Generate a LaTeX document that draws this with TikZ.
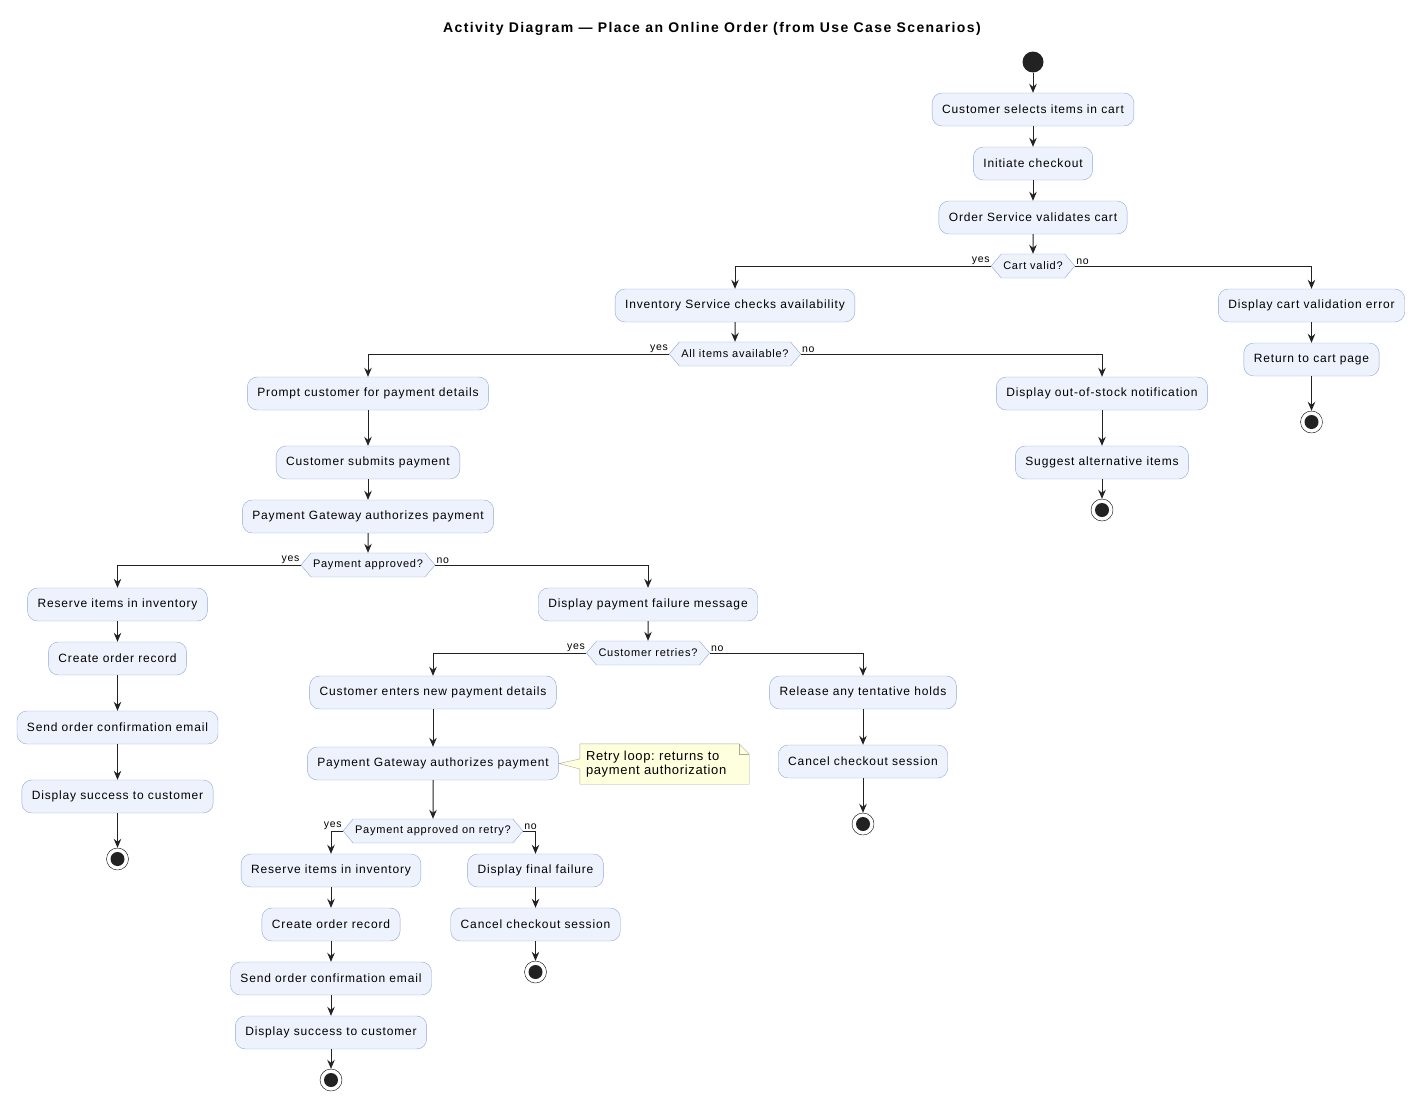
\documentclass[tikz,border=0pt]{standalone}
\usepackage{fontspec}
\setmainfont{Liberation Sans}[LetterSpace=7]
\usetikzlibrary{shapes.symbols,arrows.meta,backgrounds}
\frenchspacing

\definecolor{actFill}{HTML}{EEF2FC}
\definecolor{actLine}{HTML}{8FA8D8}
\definecolor{noteFill}{HTML}{FEFFDD}
\definecolor{noteLine}{HTML}{A9A99A}
\definecolor{flowLine}{HTML}{222222}

% column positions
\newcommand{\mainX}{1033}
\newcommand{\invX}{735}
\newcommand{\errX}{1311.5}
\newcommand{\payX}{368}
\newcommand{\stockX}{1102}
\newcommand{\okX}{117.5}
\newcommand{\failX}{648}
\newcommand{\retryX}{433}
\newcommand{\holdX}{863}
\newcommand{\reOkX}{331}
\newcommand{\reFailX}{535.5}

\tikzset{
  action/.style={draw=actLine, fill=actFill, rounded corners=10pt, minimum height=33pt,
    inner xsep=10pt, font=\fontsize{12}{14}\selectfont},
  decision/.style={draw=actLine, fill=actFill, shape=signal, signal to=east and west,
    signal pointer angle=100, minimum height=24pt, inner xsep=2pt, inner ysep=0pt,
    font=\fontsize{11}{13}\selectfont},
  startnode/.style={circle, fill=flowLine, minimum size=21pt, inner sep=0pt},
  endnode/.style={circle, draw=black, fill=white, minimum size=22pt, inner sep=0pt,
    path picture={\fill[flowLine] (path picture bounding box.center) circle (7pt);}},
  flow/.style={draw=flowLine, line width=1pt, -{Stealth[length=9pt,width=7.5pt,inset=3pt]}},
  guard/.style={font=\fontsize{10.5}{12}\selectfont, inner sep=1pt},
  memo/.style={align=left, minimum width=169pt, minimum height=40pt, inner xsep=6pt,
    text width=157pt, font=\fontsize{13}{14.5}\selectfont\addfontfeatures{LetterSpace=5}}
}

\begin{document}
\begin{tikzpicture}[x=1pt, y=-1pt]
  \useasboundingbox (0,0) rectangle (1425,1111);

  % Title
  \node[font=\bfseries\fontsize{14}{16}\selectfont\addfontfeatures{LetterSpace=10}] (title) at (712,29)
    {Activity Diagram — Place an Online Order (from Use Case Scenarios)};

  % Checkout start
  \node[startnode] (start) at (\mainX,62) {};
  \node[action] (select) at (\mainX,109.5) {Customer selects items in cart};
  \node[action] (init) at (\mainX,163.5) {Initiate checkout};
  \node[action] (validate) at (\mainX,217.5) {Order Service validates cart};
  \node[decision] (cartOk) at (\mainX,266) {Cart valid?};

  % Cart checks
  \node[action] (checkStock) at (\invX,305.5) {Inventory Service checks availability};
  \node[action] (cartErr) at (\errX,305.5) {Display cart validation error};
  \node[action] (backCart) at (\errX,359.5) {Return to cart page};
  \node[endnode] (endCart) at (\errX,422) {};
  \node[decision] (allAvail) at (\invX,354) {All items available?};

  % Stock
  \node[action] (askPay) at (\payX,393.5) {Prompt customer for payment details};
  \node[action] (noStock) at (\stockX,393.5) {Display out-of-stock notification};
  \node[action] (suggest) at (\stockX,462.5) {Suggest alternative items};
  \node[endnode] (endStock) at (\stockX,510) {};

  % Payment
  \node[action] (submitPay) at (\payX,462.5) {Customer submits payment};
  \node[action] (authPay) at (\payX,516.5) {Payment Gateway authorizes payment};
  \node[decision] (payOk) at (\payX,565) {Payment approved?};
  \node[action] (reserve) at (\okX,604.5) {Reserve items in inventory};
  \node[action] (record) at (\okX,658.5) {Create order record};
  \node[action] (mail) at (\okX,727.5) {Send order confirmation email};
  \node[action] (success) at (\okX,796.5) {Display success to customer};
  \node[endnode] (endOk) at (\okX,859) {};
  \node[action] (payFail) at (\failX,604.5) {Display payment failure message};
  \node[decision] (retry) at (\failX,653) {Customer retries?};

  % Retry
  \node[action] (newPay) at (\retryX,692.5) {Customer enters new payment details};
  \node[action] (reAuth) at (\retryX,763.5) {Payment Gateway authorizes payment};
  \node[decision] (reOk) at (\retryX,831) {Payment approved on retry?};
  \node[action] (reReserve) at (\reOkX,870.5) {Reserve items in inventory};
  \node[action] (reRecord) at (\reOkX,924.5) {Create order record};
  \node[action] (reMail) at (\reOkX,978.5) {Send order confirmation email};
  \node[action] (reSuccess) at (\reOkX,1032.5) {Display success to customer};
  \node[endnode] (endReOk) at (\reOkX,1080) {};
  \node[action] (finalFail) at (\reFailX,870.5) {Display final failure};
  \node[action] (reCancel) at (\reFailX,924.5) {Cancel checkout session};
  \node[endnode] (endReFail) at (\reFailX,972) {};
  \node[action] (release) at (\holdX,692.5) {Release any tentative holds};
  \node[action] (cancel) at (\holdX,761.5) {Cancel checkout session};
  \node[endnode] (endHold) at (\holdX,824) {};

  % Note
  \node[memo] (retryNote) at (664.5,764) {Retry loop: returns to\\payment authorization};
  \begin{pgfonlayer}{background}
    \draw[noteLine, fill=noteFill] (retryNote.north west) -- ([xshift=-10pt]retryNote.north east)
      -- ([yshift=-10pt]retryNote.north east) -- (retryNote.south east) -- (retryNote.south west)
      -- ([yshift=-5pt]retryNote.west) -- (reAuth.east) -- ([yshift=5pt]retryNote.west) -- cycle;
    \draw[noteLine] ([xshift=-10pt]retryNote.north east) -- ([xshift=-10pt,yshift=-10pt]retryNote.north east)
      -- ([yshift=-10pt]retryNote.north east);
  \end{pgfonlayer}

  % Straight flows
  \foreach \a/\b in {start/select, select/init, init/validate, validate/cartOk,
      checkStock/allAvail, cartErr/backCart, backCart/endCart,
      noStock/suggest, suggest/endStock,
      askPay/submitPay, submitPay/authPay, authPay/payOk,
      reserve/record, record/mail, mail/success, success/endOk,
      payFail/retry, newPay/reAuth, reAuth/reOk,
      reReserve/reRecord, reRecord/reMail, reMail/reSuccess, reSuccess/endReOk,
      finalFail/reCancel, reCancel/endReFail,
      release/cancel, cancel/endHold}
    \draw[flow] (\a) -- (\b);

  % Branches
  \foreach \d/\y/\n in {cartOk/checkStock/cartErr, allAvail/askPay/noStock,
      payOk/reserve/payFail, retry/newPay/release, reOk/reReserve/finalFail} {
    \draw[flow] (\d.west) -| (\y.north);
    \draw[flow] (\d.east) -| (\n.north);
    \node[guard, anchor=south east] at (\d.west) {yes};
    \node[guard, anchor=south west] at (\d.east) {no};
  }
\end{tikzpicture}
\end{document}
